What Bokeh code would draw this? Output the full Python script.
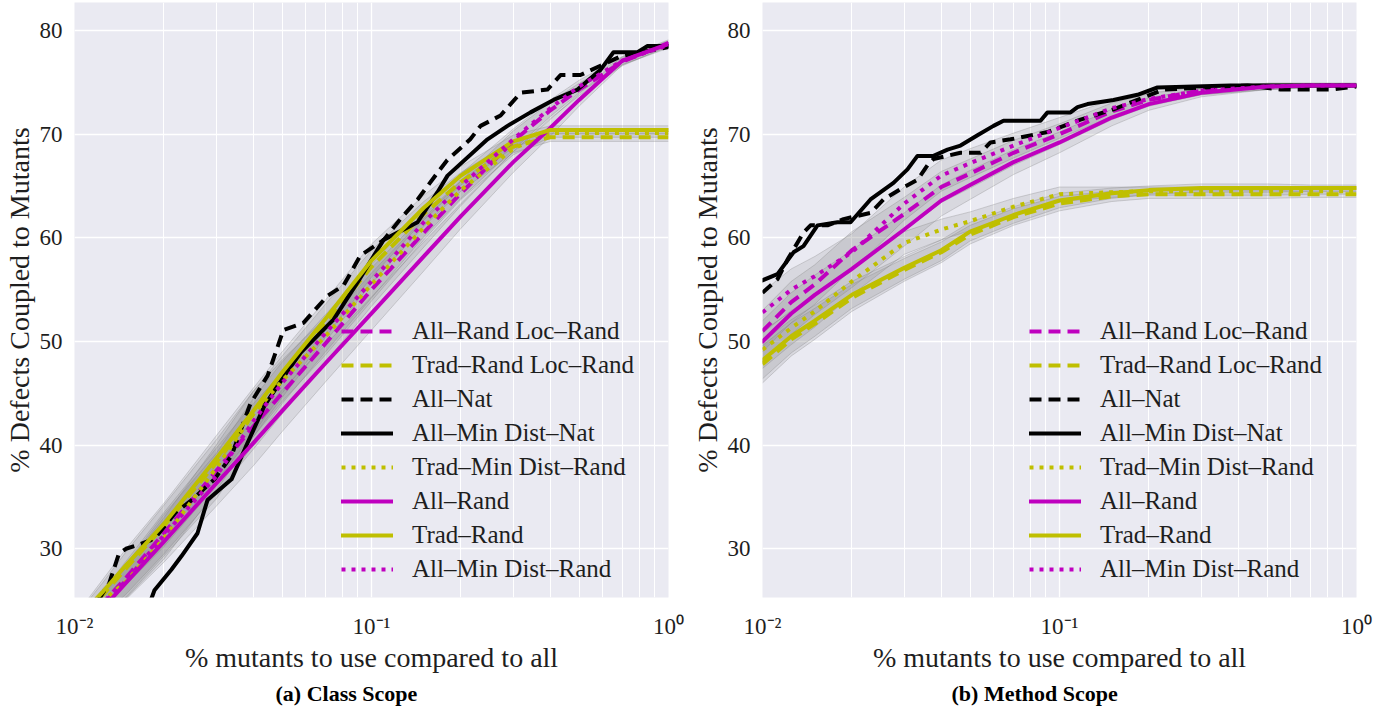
from bokeh.plotting import figure
from bokeh.models import (Legend, LegendItem, FixedTicker,
                          CustomJSTickFormatter, Title)
from bokeh.layouts import row
from bokeh.embed import file_html
from bokeh.resources import INLINE

# ---------------- data ----------------
Y_MIN, Y_MAX = 25.3, 82.7
Y_TICKS = [30, 40, 50, 60, 70, 80]
X_MAJOR = [0.01, 0.1, 1.0]
X_MINOR = [0.02, 0.03, 0.04, 0.05, 0.06, 0.07, 0.08, 0.09,
           0.2, 0.3, 0.4, 0.5, 0.6, 0.7, 0.8, 0.9]

LABELS = ["All\u2013Rand Loc\u2013Rand", "Trad\u2013Rand Loc\u2013Rand", "All\u2013Nat",
          "All\u2013Min Dist\u2013Nat", "Trad\u2013Min Dist\u2013Rand", "All\u2013Rand",
          "Trad\u2013Rand", "All\u2013Min Dist\u2013Rand"]

# (a) Class scope
CLS_X = [0.011, 0.0125, 0.015, 0.02, 0.03, 0.04, 0.05, 0.07, 0.1, 0.15, 0.2, 0.3, 0.4, 0.5, 0.7, 1.0]
CLS_ALL_RAND_LOC = [23.2, 24.8, 27.3, 31.5, 37.5, 41.8, 45.0, 49.8, 55.0, 60.5, 64.3, 69.3, 72.3, 74.3, 77.0, 78.8]
CLS_TRAD_RAND_LOC = [24.0, 25.6, 28.2, 32.2, 38.3, 43.0, 46.6, 51.8, 57.2, 62.3, 65.4, 68.8, 69.7, 69.7, 69.7, 69.7]
CLS_TRAD_MIN_RAND = [23.5, 25.0, 26.9, 31.0, 37.8, 43.0, 46.2, 50.5, 55.5, 61.0, 64.6, 68.6, 70.1, 70.1, 70.1, 70.1]
CLS_ALL_RAND = [22.5, 24.3, 26.8, 30.7, 36.3, 40.2, 43.3, 47.9, 52.7, 58.2, 62.1, 67.3, 70.6, 73.3, 77.1, 78.7]
CLS_TRAD_RAND = [24.2, 25.9, 28.5, 32.4, 38.7, 43.3, 47.0, 52.2, 57.8, 62.9, 66.0, 69.3, 70.4, 70.4, 70.4, 70.4]
CLS_ALL_MIN_RAND = [23.0, 24.7, 27.0, 31.3, 37.0, 42.3, 46.0, 50.8, 55.8, 61.5, 65.0, 69.5, 72.5, 74.6, 77.1, 78.6]
CLS_SPREAD_ALL = [0.8, 1.2, 1.6, 2.0, 2.2, 2.2, 2.0, 1.8, 1.6, 1.4, 1.2, 1.0, 0.8, 0.6, 0.4, 0.3]
CLS_SPREAD_TRAD = [0.8, 1.2, 1.6, 2.0, 2.2, 2.2, 2.0, 1.8, 1.6, 1.2, 0.9, 0.6, 0.4, 0.4, 0.4, 0.4]

CLS_NAT_X = [0.0120, 0.0131, 0.0141, 0.0149, 0.0161, 0.0180, 0.0190, 0.0219, 0.0248, 0.0296, 0.0338,
             0.0391, 0.0447, 0.0505, 0.0590, 0.0711, 0.0805, 0.0918, 0.110, 0.125, 0.143, 0.167,
             0.180, 0.215, 0.233, 0.272, 0.318, 0.391, 0.433, 0.505, 0.590, 0.689, 0.805, 1.0]
CLS_NAT_Y = [25.0, 26.7, 29.5, 30.0, 30.3, 30.8, 31.3, 33.5, 34.7, 36.7, 39.0,
             44.0, 46.7, 51.1, 51.8, 54.4, 55.4, 58.3, 59.8, 61.8, 63.7, 66.3,
             67.5, 69.5, 70.8, 71.8, 74.0, 74.3, 75.7, 75.7, 76.6, 77.5, 77.9, 78.4]
CLS_NATMIN_X = [0.01816, 0.01859, 0.02121, 0.02293, 0.02595, 0.02804, 0.03378, 0.03823, 0.04362,
                0.05094, 0.05768, 0.07449, 0.08974, 0.1098, 0.1429, 0.1668, 0.1803, 0.2458,
                0.2871, 0.3430, 0.4101, 0.4939, 0.5902, 0.6527, 0.7864, 0.8500, 1.0]
CLS_NATMIN_Y = [25.2, 26.0, 28.0, 29.3, 31.5, 34.7, 36.7, 40.2, 43.8,
                46.7, 48.9, 52.1, 55.7, 59.8, 61.5, 64.4, 66.0, 69.5,
                70.8, 72.1, 73.3, 74.3, 76.2, 77.9, 77.9, 78.5, 78.5]

# (b) Method scope
MTH_X = [0.01, 0.0125, 0.015, 0.02, 0.03, 0.04, 0.05, 0.07, 0.1, 0.15, 0.2, 0.3, 0.5, 0.7, 1.0]
MTH_ALL_RAND_LOC = [51.0, 53.8, 55.5, 58.8, 62.3, 64.9, 66.2, 68.2, 70.0, 72.2, 73.3, 74.2, 74.6, 74.7, 74.7]
MTH_TRAD_RAND_LOC = [47.8, 50.2, 51.7, 54.2, 56.9, 58.6, 60.3, 62.0, 63.3, 64.0, 64.2, 64.2, 64.2, 64.2, 64.2]
MTH_TRAD_MIN_RAND = [49.2, 51.3, 52.9, 55.8, 59.5, 60.8, 61.6, 63.0, 64.2, 64.4, 64.5, 64.5, 64.5, 64.5, 64.5]
MTH_ALL_RAND = [50.0, 52.7, 54.5, 57.0, 60.8, 63.6, 65.1, 67.3, 69.2, 71.6, 72.9, 74.0, 74.6, 74.7, 74.7]
MTH_TRAD_RAND = [48.2, 50.5, 52.0, 54.5, 57.1, 58.8, 60.6, 62.2, 63.6, 64.3, 64.6, 64.8, 64.8, 64.8, 64.8]
MTH_ALL_MIN_RAND = [52.8, 55.0, 56.3, 58.6, 63.3, 66.0, 67.2, 68.9, 70.6, 72.5, 73.4, 74.2, 74.6, 74.7, 74.7]
MTH_SPREAD_ALL = [2.0, 2.0, 1.9, 1.8, 1.6, 1.5, 1.4, 1.2, 1.0, 0.8, 0.6, 0.4, 0.3, 0.2, 0.2]
MTH_SPREAD_TRAD = [1.8, 1.6, 1.5, 1.3, 1.1, 1.0, 0.9, 0.8, 0.7, 0.5, 0.4, 0.4, 0.4, 0.3, 0.3]

MTH_NAT_X = [0.01, 0.01123, 0.01214, 0.01374, 0.01451, 0.01655, 0.01874, 0.02310, 0.02555, 0.02914,
             0.03325, 0.03594, 0.03765, 0.04642, 0.05420, 0.05857, 0.06839, 0.09112, 0.1177, 0.1520,
             0.1979, 0.2240, 0.4295, 0.5547, 0.8173, 1.0]
MTH_NAT_Y = [54.7, 56.0, 57.9, 60.5, 61.2, 61.2, 61.8, 62.4, 63.7, 64.7,
             65.6, 67.0, 67.6, 68.2, 68.2, 69.2, 69.5, 70.2, 71.4, 72.4,
             73.7, 74.3, 74.7, 74.3, 74.3, 74.6]
MTH_NATMIN_X = [0.01, 0.01123, 0.01272, 0.01374, 0.01532, 0.01789, 0.01979, 0.02310, 0.02761, 0.03077,
                0.03325, 0.03765, 0.04197, 0.04642, 0.05296, 0.05995, 0.06478, 0.08630, 0.09112,
                0.1089, 0.1150, 0.1243, 0.1520, 0.1830, 0.2138, 0.3765, 1.0]
MTH_NATMIN_Y = [55.9, 56.5, 58.6, 59.2, 61.2, 61.5, 61.5, 63.7, 65.3, 66.6,
                67.9, 67.9, 68.5, 68.9, 69.9, 70.8, 71.3, 71.3, 72.1,
                72.1, 72.6, 72.9, 73.3, 73.8, 74.5, 74.7, 74.7]

# ---------------- style ----------------
FONT = "Liberation Serif"
TEXT = "#1e1e1e"
MAG, YEL, BLK = "#BF00BF", "#BFBF00", "#000000"
DASH, DOT = "12 7", "4 6"

SUP = CustomJSTickFormatter(code="""
const e = Math.round(Math.log10(tick));
const m = {"-": "\\u207b", "0": "\\u2070", "1": "\\u00b9", "2": "\\u00b2", "3": "\\u00b3"};
return "10" + String(e).split("").map(c => m[c]).join("");
""")


def panel(caption, X, rand, spread_all, spread_trad, nat, natmin, left_b, right_b, cap_offset):
    p = figure(x_axis_type="log", x_range=(0.01, 1.0), y_range=(Y_MIN, Y_MAX),
               frame_width=594, frame_height=595, output_backend="svg",
               toolbar_location=None, background_fill_color="#EAEAF2",
               border_fill_color="white", outline_line_color=None,
               min_border_left=left_b, min_border_right=right_b,
               min_border_top=2, min_border_bottom=0)
    p.xaxis.ticker = FixedTicker(ticks=X_MAJOR, minor_ticks=X_MINOR)
    p.xaxis.formatter = SUP
    p.yaxis.ticker = FixedTicker(ticks=Y_TICKS)
    p.xgrid.grid_line_color = "white"
    p.xgrid.grid_line_width = 1.3
    p.xgrid.minor_grid_line_color = "white"
    p.xgrid.minor_grid_line_width = 1.0
    p.ygrid.grid_line_color = "white"
    p.ygrid.grid_line_width = 1.3
    for ax in (p.xaxis[0], p.yaxis[0]):
        ax.axis_line_color = None
        ax.major_tick_line_color = None
        ax.minor_tick_line_color = None
        ax.major_label_text_font = FONT
        ax.major_label_text_font_size = "23px"
        ax.major_label_text_color = TEXT
        ax.axis_label_text_font = FONT
        ax.axis_label_text_font_size = "28px"
        ax.axis_label_text_font_style = "normal"
        ax.axis_label_text_color = TEXT
    p.xaxis.major_label_standoff = 10
    p.xaxis.axis_label_standoff = 0
    p.yaxis.major_label_standoff = 6
    p.yaxis.axis_label_standoff = 2
    p.xaxis.axis_label = "% mutants to use compared to all"
    p.yaxis.axis_label = "% Defects Coupled to Mutants"

    # grey bands around the randomly sampled curves
    for key, spread in (("arl", spread_all), ("trl", spread_trad), ("tmr", spread_trad),
                        ("ar", spread_all), ("tr", spread_trad), ("amr", spread_all)):
        ys = rand[key]
        lo = [v - s for v, s in zip(ys, spread)]
        hi = [v + s for v, s in zip(ys, spread)]
        p.varea(x=X, y1=lo, y2=hi, fill_color="#7f7f7f", fill_alpha=0.16)
        p.line(X, lo, line_color="#7f7f7f", line_alpha=0.3, line_width=1)
        p.line(X, hi, line_color="#7f7f7f", line_alpha=0.3, line_width=1)

    specs = [("arl", MAG, DASH), ("trl", YEL, DASH), ("nat", BLK, DASH), ("natmin", BLK, None),
             ("tmr", YEL, DOT), ("ar", MAG, None), ("tr", YEL, None), ("amr", MAG, DOT)]
    items = []
    for lab, (key, col, dash) in zip(LABELS, specs):
        if key == "nat":
            xs, ys = nat
        elif key == "natmin":
            xs, ys = natmin
        else:
            xs, ys = X, rand[key]
        kw = dict(line_color=col, line_width=4, line_join="round")
        if dash:
            kw.update(line_dash=dash, line_cap="butt")
        else:
            kw.update(line_cap="round")
        r = p.line(xs, ys, **kw)
        items.append(LegendItem(label=lab, renderers=[r]))

    leg = Legend(items=items, location=(267, 13), orientation="vertical",
                 background_fill_alpha=0, border_line_alpha=0, padding=0, margin=0,
                 spacing=4, glyph_width=52, glyph_height=30, label_height=30,
                 label_standoff=19, label_text_font=FONT, label_text_font_size="25px",
                 label_text_color=TEXT, label_text_baseline="middle")
    p.add_layout(leg)
    p.add_layout(Title(text=caption, align="left", offset=cap_offset, text_font=FONT,
                       text_font_size="22px", text_font_style="bold", text_color="black",
                       standoff=6), "below")
    return p


cls_rand = {"arl": CLS_ALL_RAND_LOC, "trl": CLS_TRAD_RAND_LOC, "tmr": CLS_TRAD_MIN_RAND,
            "ar": CLS_ALL_RAND, "tr": CLS_TRAD_RAND, "amr": CLS_ALL_MIN_RAND}
mth_rand = {"arl": MTH_ALL_RAND_LOC, "trl": MTH_TRAD_RAND_LOC, "tmr": MTH_TRAD_MIN_RAND,
            "ar": MTH_ALL_RAND, "tr": MTH_TRAD_RAND, "amr": MTH_ALL_MIN_RAND}

p1 = panel("(a) Class Scope", CLS_X, cls_rand, CLS_SPREAD_ALL, CLS_SPREAD_TRAD,
           (CLS_NAT_X, CLS_NAT_Y), (CLS_NATMIN_X, CLS_NATMIN_Y), 66, 20, 201)
p2 = panel("(b) Method Scope", MTH_X, mth_rand, MTH_SPREAD_ALL, MTH_SPREAD_TRAD,
           (MTH_NAT_X, MTH_NAT_Y), (MTH_NATMIN_X, MTH_NATMIN_Y), 74, 18, 189)

layout = row(p1, p2)
open("out.html", "w").write(file_html(layout, INLINE))
